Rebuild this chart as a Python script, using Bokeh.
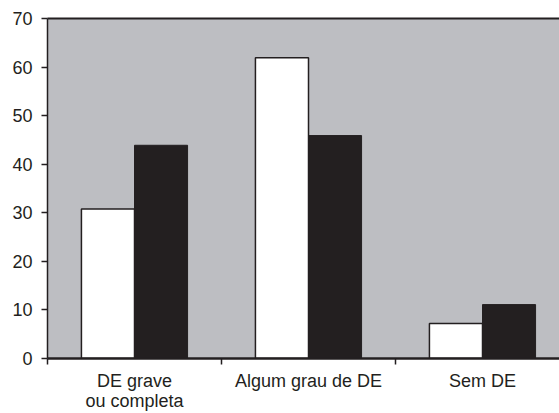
from bokeh.plotting import figure
from bokeh.models import Range1d, FixedTicker, LinearAxis
from bokeh.embed import file_html
from bokeh.resources import INLINE

categories = ["DE grave\nou completa", "Algum grau de DE", "Sem DE"]
series_white = [30.8, 61.9, 7.2]
series_black = [43.9, 45.9, 11.1]
y_ticks = [0, 10, 20, 30, 40, 50, 60, 70]

TEXT = "#231f20"
FONT = "Liberation Sans"

n = len(categories)
centers = [i + 0.5 for i in range(n)]
bounds = [float(i) for i in range(n + 1)]
bw = 0.305
x_white = [c - bw / 2 for c in centers]
x_black = [c + bw / 2 for c in centers]

p = figure(width=559, height=413,
           x_range=Range1d(0, 512 / 174), y_range=Range1d(0, 70),
           output_backend="svg", toolbar_location=None,
           min_border_left=47, min_border_right=0,
           min_border_top=18, min_border_bottom=55)

p.background_fill_color = "#bdbec2"
p.border_fill_color = "white"
p.outline_line_color = None
p.xgrid.visible = False
p.ygrid.visible = False

p.vbar(x=x_white, top=series_white, width=bw, bottom=0,
       fill_color="white", line_color=TEXT, line_width=1.5)
p.vbar(x=x_black, top=series_black, width=bw, bottom=0,
       fill_color=TEXT, line_color=TEXT, line_width=1)

# y axis
ya = p.yaxis[0]
ya.ticker = FixedTicker(ticks=y_ticks)
ya.major_tick_out = 6
ya.major_tick_in = 0
ya.minor_tick_out = 0
ya.minor_tick_in = 0
ya.axis_line_color = TEXT
ya.axis_line_width = 1.5
ya.major_tick_line_color = TEXT
ya.major_tick_line_width = 1.5
ya.major_label_text_font = FONT
ya.major_label_text_font_size = "18px"
ya.major_label_text_color = TEXT
ya.major_label_standoff = 9

# x axis
xa = p.xaxis[0]
xa.ticker = FixedTicker(ticks=centers, minor_ticks=bounds)
xa.major_label_overrides = {c: lab for c, lab in zip(centers, categories)}
xa.major_tick_out = 0
xa.major_tick_in = 0
xa.minor_tick_out = 6
xa.minor_tick_in = 0
xa.minor_tick_line_color = TEXT
xa.minor_tick_line_width = 1.5
xa.axis_line_color = TEXT
xa.axis_line_width = 2.5
xa.major_label_text_font = FONT
xa.major_label_text_font_size = "18px"
xa.major_label_text_line_height = 1.0
xa.major_label_text_color = TEXT
xa.major_label_standoff = 6

# top border line
top = LinearAxis(ticker=FixedTicker(ticks=[]), major_label_text_font_size="0px",
                 axis_line_color=TEXT, axis_line_width=2,
                 major_tick_out=0, major_tick_in=0, minor_tick_out=0, minor_tick_in=0)
p.add_layout(top, "above")

open("out.html", "w").write(file_html(p, INLINE))
